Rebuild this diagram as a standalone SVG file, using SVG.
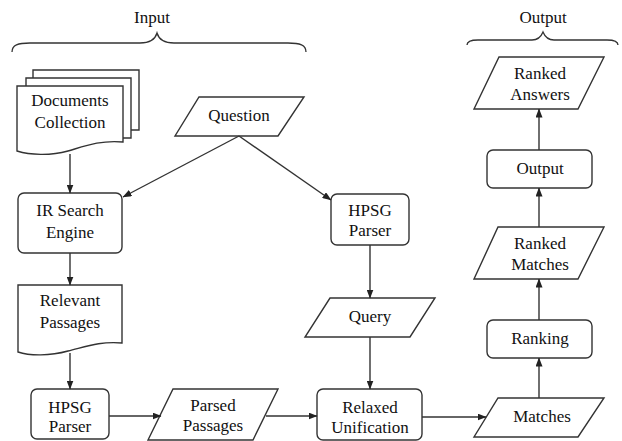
<svg xmlns="http://www.w3.org/2000/svg" width="622" height="441" viewBox="0 0 622 441">
<defs>
<marker id="ah" markerWidth="9" markerHeight="7" refX="8.5" refY="3.5" orient="auto" markerUnits="userSpaceOnUse">
<path d="M0,0 L9,3.5 L0,7 z" fill="#222"/>
</marker>
</defs>
<rect width="622" height="441" fill="#fff"/>
<g font-family="Liberation Serif" font-size="17" text-anchor="middle" fill="#111">
<g id="input-label">
<path fill="none" stroke="#333" stroke-width="1.3" d="M12,52 C12,45 18,43 30,43 L140,43 C150,43 155,40 157,33 C159,40 164,43 174,43 L288,43 C300,43 306,45 306,52"/>
<text x="152" y="23">Input</text>
</g>
<g id="output-label">
<path fill="none" stroke="#333" stroke-width="1.3" d="M467,45 C467,42 471,40 478,40 L532,40 C538,40 541,37 543,32 C545,37 548,40 554,40 L607,40 C614,40 618,42 618,45"/>
<text x="543" y="23">Output</text>
</g>
<g id="docs">
<path fill="#fff" stroke="#333" stroke-width="1.4" d="M33,70 L139,70 L139,130 L33,130 z"/>
<path fill="#fff" stroke="#333" stroke-width="1.4" d="M26,78 L131,78 L131,138 L26,138 z"/>
<path fill="#fff" stroke="#333" stroke-width="1.4" d="M17,86 L123,86 L123,142 C100,140 85,146 68,151 C50,156 30,155 17,151 z"/>
<text x="70" y="106">Documents</text>
<text x="70" y="128">Collection</text>
</g>
<g id="question">
<polygon fill="#fff" stroke="#333" stroke-width="1.4" points="199,97 304,97 278,136 175,136"/>
<text x="239" y="121">Question</text>
</g>
<g id="ir">
<rect fill="#fff" stroke="#333" stroke-width="1.4" x="18" y="193" width="104" height="60" rx="6"/>
<text x="70" y="216">IR Search</text>
<text x="70" y="238">Engine</text>
</g>
<g id="relevant">
<path fill="#fff" stroke="#333" stroke-width="1.4" d="M18,285 L122,285 L122,343 C100,341 85,347 68,351 C50,356 30,356 18,352 z"/>
<text x="70" y="306">Relevant</text>
<text x="70" y="328">Passages</text>
</g>
<g id="hpsg1">
<rect fill="#fff" stroke="#333" stroke-width="1.4" x="31" y="389" width="78" height="50" rx="6"/>
<text x="70" y="413">HPSG</text>
<text x="70" y="432">Parser</text>
</g>
<g id="parsed">
<polygon fill="#fff" stroke="#333" stroke-width="1.4" points="173,389 278,389 253,440 148,440"/>
<text x="213" y="411">Parsed</text>
<text x="213" y="431">Passages</text>
</g>
<g id="hpsg2">
<rect fill="#fff" stroke="#333" stroke-width="1.4" x="331" y="194" width="78" height="51" rx="6"/>
<text x="370" y="216">HPSG</text>
<text x="370" y="236">Parser</text>
</g>
<g id="query">
<polygon fill="#fff" stroke="#333" stroke-width="1.4" points="330,298 435,298 410,337 305,337"/>
<text x="370" y="322">Query</text>
</g>
<g id="relaxed">
<rect fill="#fff" stroke="#333" stroke-width="1.4" x="317" y="389" width="105" height="51" rx="6"/>
<text x="370" y="413">Relaxed</text>
<text x="370" y="433">Unification</text>
</g>
<g id="matches">
<polygon fill="#fff" stroke="#333" stroke-width="1.4" points="498,398 604,398 578,437 474,437"/>
<text x="542" y="422">Matches</text>
</g>
<g id="ranking">
<rect fill="#fff" stroke="#333" stroke-width="1.4" x="487" y="320" width="105" height="38" rx="6"/>
<text x="540" y="344">Ranking</text>
</g>
<g id="ranked-matches">
<polygon fill="#fff" stroke="#333" stroke-width="1.4" points="498,227 604,227 578,279 474,279"/>
<text x="540" y="249">Ranked</text>
<text x="540" y="270">Matches</text>
</g>
<g id="output">
<rect fill="#fff" stroke="#333" stroke-width="1.4" x="487" y="150" width="105" height="38" rx="6"/>
<text x="540" y="174">Output</text>
</g>
<g id="ranked-answers">
<polygon fill="#fff" stroke="#333" stroke-width="1.4" points="499,57 604,57 578,109 474,109"/>
<text x="540" y="79">Ranked</text>
<text x="540" y="100">Answers</text>
</g>
</g>
<g id="connectors" fill="none" stroke="#333" stroke-width="1.4" marker-end="url(#ah)">
<line x1="70" y1="154" x2="70" y2="193"/>
<line x1="239" y1="136" x2="123" y2="197"/>
<line x1="239" y1="136" x2="331" y2="200"/>
<line x1="70" y1="253" x2="70" y2="285"/>
<line x1="70" y1="353" x2="70" y2="389"/>
<line x1="109" y1="416" x2="161" y2="416"/>
<line x1="266" y1="416" x2="317" y2="416"/>
<line x1="370" y1="245" x2="370" y2="298"/>
<line x1="370" y1="337" x2="370" y2="389"/>
<line x1="422" y1="417" x2="486" y2="417"/>
<line x1="539" y1="398" x2="539" y2="358"/>
<line x1="539" y1="320" x2="539" y2="279"/>
<line x1="539" y1="227" x2="539" y2="188"/>
<line x1="539" y1="150" x2="539" y2="109"/>
</g>
</svg>
